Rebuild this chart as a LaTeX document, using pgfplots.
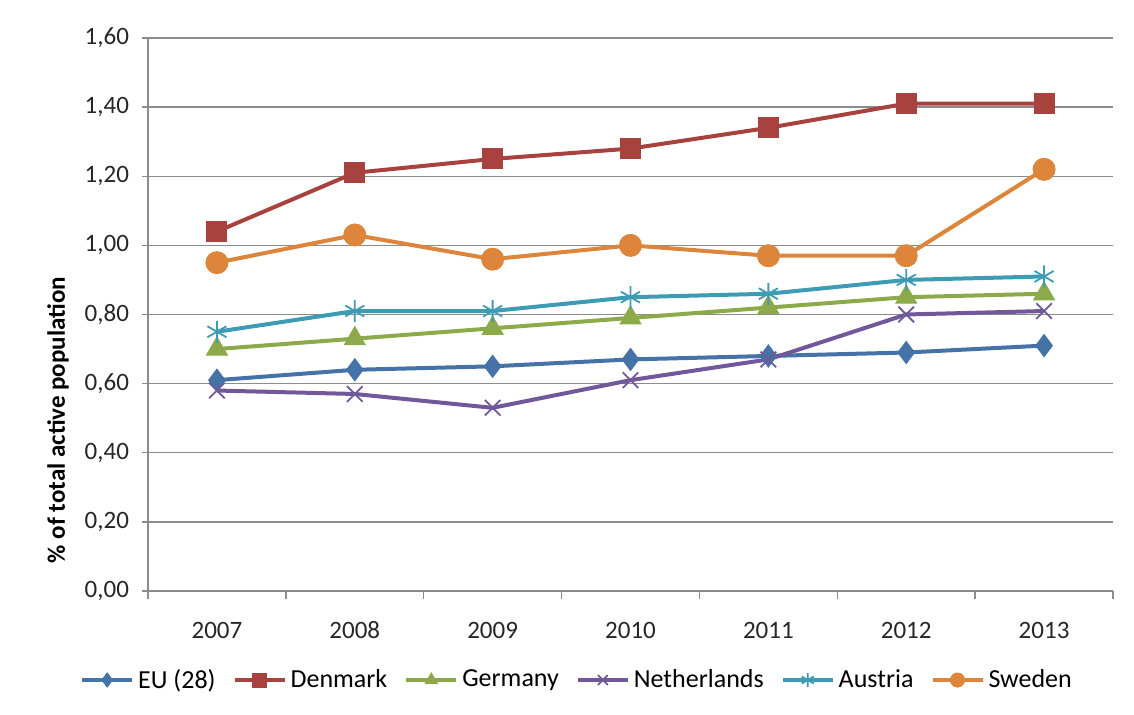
\documentclass[border=0pt]{standalone}
\usepackage{pgfplots}
\pgfplotsset{compat=1.18}
\usepackage{fontspec}
\setmainfont{Carlito}
\definecolor{cEU}{HTML}{4572A7}
\definecolor{cDK}{HTML}{A8423F}
\definecolor{cDE}{HTML}{8DAA4B}
\definecolor{cNL}{HTML}{71589A}
\definecolor{cAT}{HTML}{3E9BB4}
\definecolor{cSE}{HTML}{DD853A}
\definecolor{gridc}{HTML}{8C8C8C}
\begin{document}
\begin{tikzpicture}[x=1pt,y=1pt]
\useasboundingbox (-74,-62) rectangle (493,295.5);
\begin{axis}[
  at={(0,0)}, anchor=south west,
  scale only axis, width=482.5pt, height=276.5pt,
  xmin=-0.5, xmax=6.5, ymin=0, ymax=1.6,
  axis lines*=left,
  axis line style={draw=gridc, line width=0.7pt, -},
  xtick={0,...,6},
  xticklabels={2007,2008,2009,2010,2011,2012,2013},
  major x tick style={draw=none},
  minor xtick={-0.5,0.5,...,6.5},
  minor x tick style={draw=gridc, line width=0.7pt},
  minor tick length=4pt,
  ytick={0,0.2,...,1.61},
  major y tick style={draw=gridc, line width=0.7pt},
  major tick length=3pt,
  tick align=outside,
  ymajorgrids,
  grid style={draw=gridc, line width=0.7pt},
  font=\fontsize{12.5}{14}\selectfont,
  tick label style={font=\fontsize{12.5}{14}\selectfont, text=black!85},
  xticklabel style={anchor=base, yshift=-21pt},
  yticklabel style={xshift=-3pt},
  /pgf/number format/assume math mode=true,
  yticklabel={\pgfmathprintnumber[fixed, fixed zerofill, precision=2, use comma]{\tick}},
  ylabel={\textbf{\% of total active population}},
  ylabel style={at={(rel axis cs:-0.0933,0.309)}, anchor=center, rotate=0, font=\fontsize{12.5}{14}\selectfont},
  legend style={at={(rel axis cs:0.4456,-0.161)}, anchor=center, draw=none, fill=none,
    legend columns=6, font=\fontsize{13}{15}\selectfont,
    /tikz/every even column/.append style={column sep=6.5pt},
    /tikz/every odd column/.append style={column sep=0pt}},
  legend cell align=left,
  legend image code/.code={
    \draw[#1, mark repeat=2, mark phase=2, mark size=3.5pt] plot coordinates {(0pt,0pt) (12.5pt,0pt) (25pt,0pt)};},
  every axis plot/.append style={line width=2pt},
  clip=false,
]
\addplot[cEU, mark=diamond*, mark size=5.5pt, mark options={solid, fill=cEU, line width=0.5pt}]
  coordinates {(0,0.61) (1,0.64) (2,0.65) (3,0.67) (4,0.68) (5,0.69) (6,0.71)};
\addlegendentry{EU (28)}
\addplot[cDK, mark=square*, mark size=5pt, mark options={solid, fill=cDK, line width=0.5pt}]
  coordinates {(0,1.04) (1,1.21) (2,1.25) (3,1.28) (4,1.34) (5,1.41) (6,1.41)};
\addlegendentry{Denmark}
\addplot[cDE, mark=triangle*, mark size=6pt, mark options={solid, fill=cDE, line width=0.5pt}]
  coordinates {(0,0.70) (1,0.73) (2,0.76) (3,0.79) (4,0.82) (5,0.85) (6,0.86)};
\addlegendentry{Germany}
\addplot[cNL, mark=x, mark size=5.5pt, mark options={solid, line width=0.9pt}]
  coordinates {(0,0.58) (1,0.57) (2,0.53) (3,0.61) (4,0.67) (5,0.80) (6,0.81)};
\addlegendentry{Netherlands}
\addplot[cAT, mark=asterisk, mark size=5.5pt, mark options={solid, line width=0.9pt}]
  coordinates {(0,0.75) (1,0.81) (2,0.81) (3,0.85) (4,0.86) (5,0.90) (6,0.91)};
\addlegendentry{Austria}
\addplot[cSE, mark=*, mark size=5.5pt, mark options={solid, fill=cSE, line width=0.5pt}]
  coordinates {(0,0.95) (1,1.03) (2,0.96) (3,1.00) (4,0.97) (5,0.97) (6,1.22)};
\addlegendentry{Sweden}
\end{axis}
\end{tikzpicture}
\end{document}
